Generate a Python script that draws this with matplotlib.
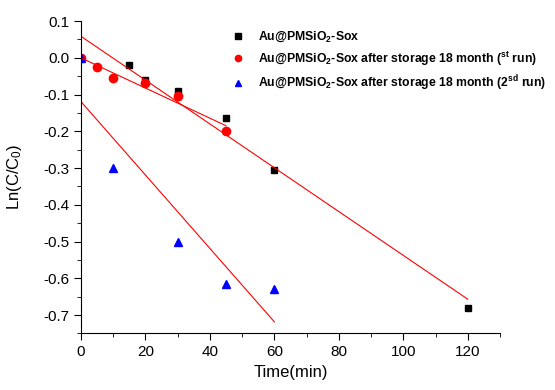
import numpy as np
import matplotlib
matplotlib.use("Agg")
import matplotlib.pyplot as plt
from matplotlib.ticker import MultipleLocator, FormatStrFormatter

plt.rcParams["font.family"] = ["Liberation Sans", "DejaVu Sans"]
plt.rcParams["mathtext.fontset"] = "custom"
plt.rcParams["mathtext.rm"] = "Liberation Sans:bold"
plt.rcParams["mathtext.it"] = "Liberation Sans:bold"
plt.rcParams["mathtext.bf"] = "Liberation Sans:bold"
plt.rcParams["mathtext.default"] = "bf"
plt.rcParams["axes.unicode_minus"] = False

# Kinetic data, ln(C/C0) vs time
t_fresh = [0, 15, 20, 30, 45, 60, 120]
ln_fresh = [0.0, -0.02, -0.06, -0.09, -0.165, -0.305, -0.68]

t_run1 = [0, 5, 10, 20, 30, 45]
ln_run1 = [0.0, -0.025, -0.055, -0.068, -0.105, -0.2]

t_run2 = [0, 10, 30, 45, 60]
ln_run2 = [0.0, -0.3, -0.5, -0.615, -0.63]

labels = [
    r"Au@PMSiO$_2$-Sox",
    r"Au@PMSiO$_2$-Sox after storage 18 month ($^{st}$ run)",
    r"Au@PMSiO$_2$-Sox after storage 18 month (2$^{sd}$ run)",
]

fig = plt.figure(figsize=(5.55, 3.9), dpi=100)
ax = fig.add_axes([0.146, 0.145, 0.755, 0.801])

series = [
    (t_fresh, ln_fresh, "s", "black", 5),
    (t_run1, ln_run1, "o", "red", 6),
    (t_run2, ln_run2, "^", "blue", 6),
]
for (t, y, m, c, ms), lab in zip(series, labels):
    ax.plot(t, y, linestyle="none", marker=m, color=c, markersize=ms, label=lab)

# linear fits over each data range
for t, y, *_ in series:
    k, b = np.polyfit(t, y, 1)
    xs = np.array([min(t), max(t)])
    ax.plot(xs, k * xs + b, color="red", linewidth=0.8)

ax.set_xlim(0, 130)
ax.set_ylim(-0.75, 0.1)
ax.xaxis.set_major_locator(MultipleLocator(20))
ax.xaxis.set_minor_locator(MultipleLocator(10))
ax.yaxis.set_major_locator(MultipleLocator(0.1))
ax.yaxis.set_minor_locator(MultipleLocator(0.05))
ax.yaxis.set_major_formatter(FormatStrFormatter("%.1f"))
ax.spines["top"].set_visible(False)
ax.spines["right"].set_visible(False)
ax.tick_params(which="major", direction="out", length=5, labelsize=11)
ax.tick_params(which="minor", direction="out", length=3)
ax.set_xlabel("Time(min)", fontsize=12)
ax.set_ylabel(r"Ln(C/C$_\mathregular{0}$)", fontsize=12)
ax.yaxis.set_label_coords(-0.135, 0.5)

leg = ax.legend(loc="upper left", bbox_to_anchor=(0.325, 1.0), frameon=False,
                prop={"weight": "bold", "size": 8.8}, handletextpad=0.6,
                labelspacing=0.45, borderaxespad=0.3, markerscale=0.75)

fig.savefig("out.png", dpi=100)
